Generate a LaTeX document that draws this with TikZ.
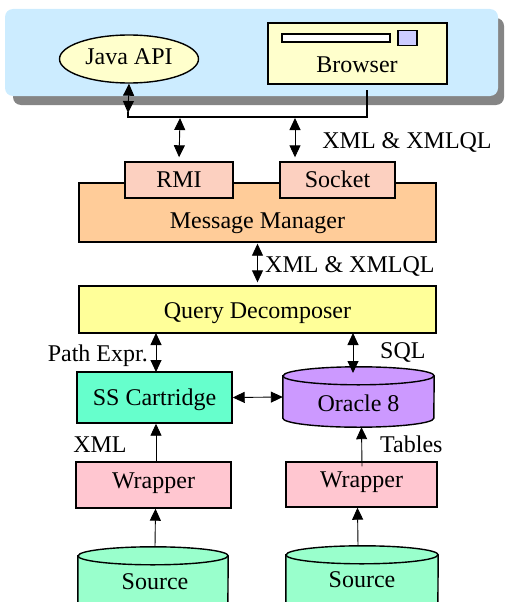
\documentclass[tikz,border=0pt]{standalone}
\usepackage{fontspec}
\setmainfont{Liberation Serif}
\usetikzlibrary{arrows.meta,shapes.geometric,calc}
\pgfdeclarelayer{bg}
\pgfsetlayers{bg,main}
\definecolor{panelc}{HTML}{CCECFF}
\definecolor{shadowc}{HTML}{858585}
\definecolor{creamc}{HTML}{FFFFCC}
\definecolor{sqc}{HTML}{CCCCFF}
\definecolor{rmic}{HTML}{FCD0C0}
\definecolor{mmc}{HTML}{FFCC99}
\definecolor{qdc}{HTML}{FFFF99}
\definecolor{ssc}{HTML}{66FFCC}
\definecolor{orc}{HTML}{CC99FF}
\definecolor{wrc}{HTML}{FFC6D0}
\definecolor{srcc}{HTML}{99FFCC}
\newcommand\cylpath[4]{% node, half width, ry, fill
  \path[fill=#4,draw=black,line width=1.4pt]
    ($(#1.north west)+(0pt,-#3)$) -- ($(#1.south west)+(0pt,#3)$)
    arc[start angle=180,end angle=360,x radius=#2,y radius=#3]
    -- ($(#1.north east)+(0pt,-#3)$)
    arc[start angle=0,end angle=180,x radius=#2,y radius=#3] -- cycle;
  \draw[line width=1.4pt] ($(#1.north west)+(0pt,-#3)$)
    arc[start angle=180,end angle=360,x radius=#2,y radius=#3];}
\begin{document}
\begin{tikzpicture}[x=1pt,y=-1pt,
  font=\fontsize{24}{27}\selectfont,
  box/.style={draw=black,line width=1.4pt,rectangle,inner sep=0pt},
  cylbox/.style={rectangle,inner sep=0pt,draw=none},
  tip/.style={-{Triangle[length=12pt,width=11pt]},line width=0.9pt},
  dbl/.style={{Triangle[length=12pt,width=11pt]}-{Triangle[length=12pt,width=11pt]},line width=0.9pt},
  plain/.style={line width=1.1pt},
  txt/.style={inner sep=0pt,anchor=base},
  txtw/.style={inner sep=0pt,anchor=base west},
  txte/.style={inner sep=0pt,anchor=base east}]
\useasboundingbox (0,0) rectangle (505,602);
\clip (0,0) rectangle (505,602);
% top panel with shadow
\fill[shadowc,rounded corners=8pt] (13,18) rectangle (504,105);
\fill[panelc,rounded corners=8pt] (5,9) rectangle (498,96);
% clients
\node[box,ellipse,fill=creamc,minimum width=139pt,minimum height=48pt] (java) at (129,59) {};
\node[txt] (javatxt) at (129,65) {Java API};
\node[box,fill=creamc,minimum width=179pt,minimum height=61pt] (browser) at (357.5,53.5) {};
\node[box,fill=white,line width=1.2pt,minimum width=108pt,minimum height=8pt] (bar) at (336,38) {};
\node[box,fill=sqc,line width=1.2pt,minimum width=19pt,minimum height=15pt] (sq) at (407.5,38) {};
\node[txt] (browsertxt) at (357,72) {Browser};
% bus
\coordinate (jb) at (128,117);
\coordinate (b1) at (180,118);
\coordinate (b2) at (295,118);
\draw[dbl] (java.south) -- (128,113);
\draw[plain] (128,112) -- (jb) -| ($(browser.south)+(9.5pt,-5pt)$);
% message manager
\node[box,fill=mmc,minimum width=357pt,minimum height=59pt] (mm) at (257.5,212.5) {};
\node[txt] (mmtxt) at (257.5,228) {Message Manager};
\node[box,fill=rmic,minimum width=108pt,minimum height=36pt] (rmi) at (179,180) {};
\node[txt] (rmitxt) at (179,187.5) {RMI};
\node[box,fill=rmic,minimum width=115pt,minimum height=36pt] (socket) at (337.5,180) {};
\node[txt] (sockettxt) at (337.5,187.5) {Socket};
\draw[dbl,shorten >=4pt] (b1) -- (rmi.north);
\draw[dbl,shorten >=4pt] (b2) -- (b2 |- socket.north);
\node[txt] (l1) at (407,148) {XML \& XMLQL};
% query decomposer
\node[box,fill=qdc,minimum width=357pt,minimum height=47pt] (qd) at (257.5,309.5) {};
\node[txt] (qdtxt) at (257.5,318) {Query Decomposer};
\draw[dbl] ($(mm.south)+(0pt,-1pt)$) -- ($(qd.north)+(0pt,3pt)$);
\node[txtw] (l2) at (265,272) {XML \& XMLQL};
% ss cartridge and oracle
\node[box,fill=ssc,minimum width=155pt,minimum height=51pt] (ss) at (154.5,397.5) {};
\node[txt] (sstxt) at (154.5,405) {SS Cartridge};
\node[cylbox,minimum width=151pt,minimum height=60pt] (oracle) at (358.5,397) {};
\node[txt] (oracletxt) at (358.5,411) {Oracle 8};
\begin{pgfonlayer}{bg}
\cylpath{oracle}{75.5pt}{9pt}{orc}
\end{pgfonlayer}
\draw[dbl] (156,333) -- (156,372);
\draw[dbl] (353,333) -- (353,373);
\node[txte] (l3) at (148,361) {Path Expr.};
\node[txtw] (l4) at (380,358) {SQL};
\draw[dbl] (ss.east) -- (oracle.west);
% wrappers
\node[box,fill=wrc,minimum width=155pt,minimum height=46pt] (w1) at (153.5,485) {};
\node[txt] (w1txt) at (153.5,488.5) {Wrapper};
\node[box,fill=wrc,minimum width=151pt,minimum height=45pt] (w2) at (361.5,484.5) {};
\node[txt] (w2txt) at (361.5,487.5) {Wrapper};
\draw[tip] (w1.north -| ss.south) ++(1.5pt,0) -- ($(ss.south)+(1.5pt,0)$);
\draw[tip] ($(w2.north)+(0.5pt,-5pt)$) -- ($(oracle.south)+(3pt,0)$);
\node[txt] (l5) at (100,452) {XML};
\node[txtw] (l6) at (380,452) {Tables};
% sources
\node[cylbox,minimum width=150pt,minimum height=76pt] (s1) at (153,585) {};
\node[cylbox,minimum width=152pt,minimum height=76pt] (s2) at (362,584) {};
\begin{pgfonlayer}{bg}
\cylpath{s1}{75pt}{9pt}{srcc}
\cylpath{s2}{76pt}{9pt}{srcc}
\end{pgfonlayer}
\node[txt] (s1txt) at (155,589) {Source};
\node[txt] (s2txt) at (362,587) {Source};
\draw[tip] ($(s1.north)+(2pt,0)$) -- ($(w1.south)+(2pt,0)$);
\draw[tip] ($(s2.north)+(-4pt,0)$) -- ($(w2.south)+(-4pt,0)$);
\end{tikzpicture}
\end{document}
